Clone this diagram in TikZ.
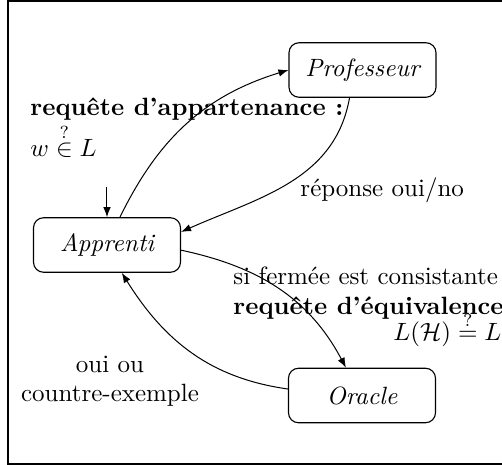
\documentclass[tikz,border=0pt]{standalone}
\usetikzlibrary{arrows.meta}
\begin{document}
\begin{tikzpicture}[x=0.4pt,y=-0.4pt,
  agent/.style={draw,rounded corners=4pt,minimum width=58.8pt,minimum height=21.8pt,inner sep=0pt,line width=0.45pt,font=\itshape},
  conn/.style={-{Latex[length=4pt,width=3pt]},line width=0.4pt},
  lbl/.style={inner sep=0pt}]
\useasboundingbox (0,0) rectangle (502,465);
\clip (0,0) rectangle (502,465);
\draw[line width=0.65pt] (8,1) rectangle (530,464);
\node[agent] (prof) at (362.5,70) {Professeur};
\node[agent] (app) at (107,245) {Apprenti};
\node[agent] (ora) at (362,395.5) {Oracle};
\coordinate (init) at (107,187);
\draw[conn] (init) -- (app.north);
\draw[conn] (app.65) to[out=64,in=197] (prof.west);
\draw[conn] (prof.-115) to[out=-100,in=24] (app.10);
\draw[conn] (app.-4) to[out=-12,in=118] (ora.120);
\draw[conn] (ora.175) to[out=172,in=-58] (app.-62);
\node[lbl,anchor=base west] (q1) at (30,116) {\textbf{requête d'appartenance :}};
\node[lbl,anchor=base west] (q1m) at (30,157) {$w \stackrel{?}{\in} L$};
\node[lbl,anchor=base west] (rep) at (300,197) {réponse oui/no};
\node[lbl,anchor=base west] (sif) at (233,285) {si fermée est consistante};
\node[lbl,anchor=base west] (q2) at (233,315) {\textbf{requête d'équivalence}};
\node[lbl,anchor=base east] (q2m) at (502,341) {$L(\mathcal{H}) \stackrel{?}{=} L$};
\node[lbl,anchor=base] (oui) at (110,373) {oui ou};
\node[lbl,anchor=base] (ctr) at (110,402) {countre-exemple};
\end{tikzpicture}
\end{document}
